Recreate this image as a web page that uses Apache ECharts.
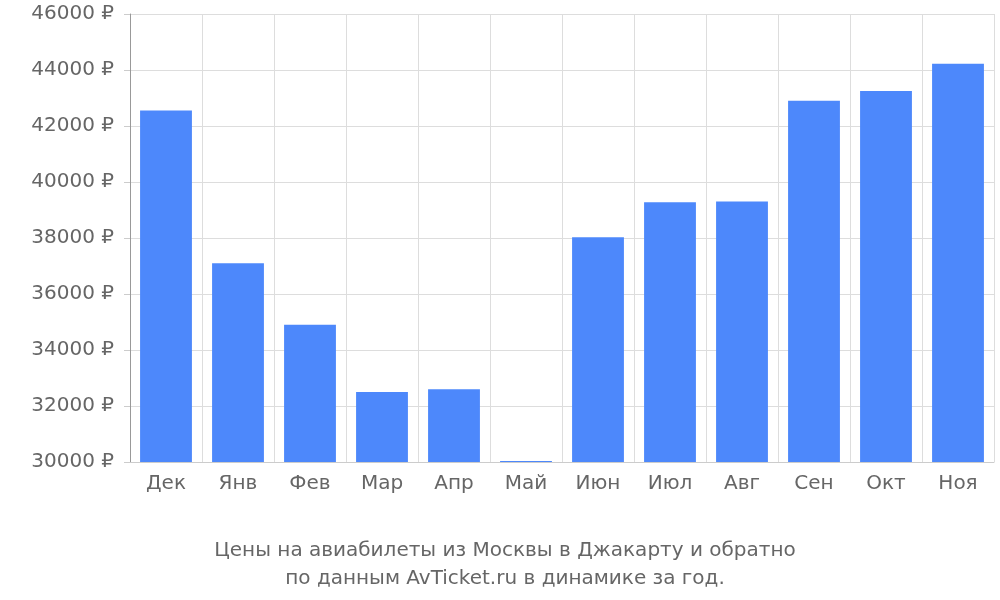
<!DOCTYPE html>
<html><head><meta charset="utf-8">
<script src="https://cdn.jsdelivr.net/npm/echarts@6/dist/echarts.min.js"></script>
<style>body{margin:0}#c{width:1000px;height:600px}</style></head>
<body><div id="c"></div>
<script>
const categories=['Дек','Янв','Фев','Мар','Апр','Май','Июн','Июл','Авг','Сен','Окт','Ноя'];
const prices=[42550,37100,34900,32500,32600,30040,38030,39280,39300,42900,43250,44220];
const chart=echarts.init(document.getElementById('c'));
chart.setOption({
  animation:false,
  title:{text:'Цены на авиабилеты из Москвы в Джакарту и обратно\nпо данным AvTicket.ru в динамике за год.',left:500,textAlign:'center',top:532,
    textStyle:{fontFamily:'DejaVu Sans',fontSize:20,fontWeight:'normal',color:'#666',lineHeight:28}},
  grid:{left:130,right:6,top:14,bottom:138},
  xAxis:{type:'category',data:categories,
    axisLine:{lineStyle:{color:'#ccc'}},
    axisTick:{length:18,lineStyle:{color:'#ccc'}},
    splitLine:{show:true,lineStyle:{color:'#ddd'}},
    axisLabel:{fontFamily:'DejaVu Sans',fontSize:20,color:'#666',margin:12}},
  yAxis:{type:'value',min:30000,max:46000,interval:2000,
    axisLine:{show:true,lineStyle:{color:'#999'}},
    axisTick:{show:true,length:6,lineStyle:{color:'#ccc'}},
    splitLine:{lineStyle:{color:'#ddd'}},
    axisLabel:{fontFamily:'DejaVu Sans',fontSize:20,color:'#666',margin:16,formatter:v=>v+' ₽'}},
  series:[{type:'bar',data:prices,barCategoryGap:'28%',itemStyle:{color:'#4d88fb'}}]
});
</script></body></html>
